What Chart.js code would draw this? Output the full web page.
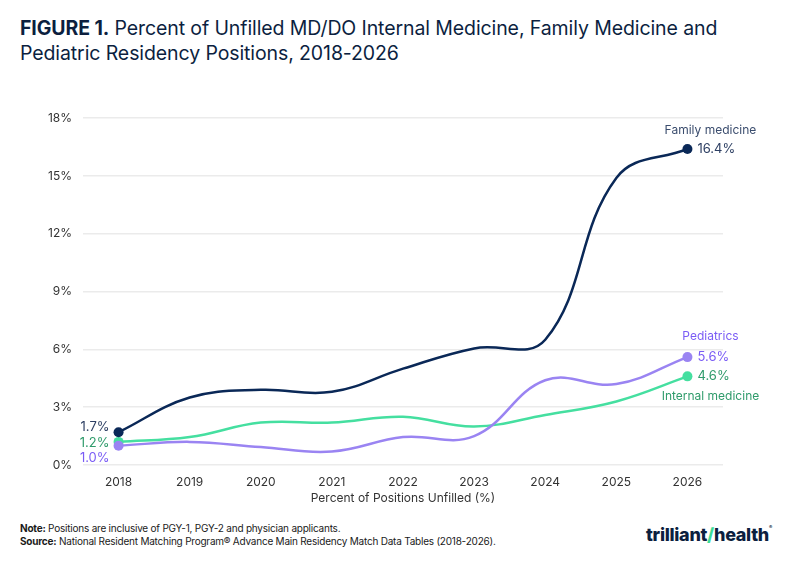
<!DOCTYPE html>
<html>
<head>
<meta charset="utf-8">
<script src="https://cdn.jsdelivr.net/npm/chart.js@4.4.1/dist/chart.umd.min.js"></script>
<style>
  body { margin: 0; background: #fff; font-family: Inter, "Noto Sans", sans-serif; }
  #page { position: relative; width: 800px; height: 566px; overflow: hidden; }
  #titulo { position: absolute; left: 20px; top: 16px; font-size: 19.5px; line-height: 25px; color: #0c1f3f; letter-spacing: -0.1px; }
  #titulo b { font-weight: 700; }
  #grafico-box { position: absolute; left: 0; top: 100px; width: 800px; height: 415px; }
  #nota { position: absolute; left: 20px; top: 522px; font-size: 10px; line-height: 13px; color: #1a1a1a; letter-spacing: -0.22px; }
  #logo { position: absolute; left: 646px; top: 524px; font-size: 18px; font-weight: 800; color: #0c1f3f; letter-spacing: -0.3px; }
  #logo sup { font-size: 5px; vertical-align: top; }
</style>
</head>
<body>
<div id="page">
  <div id="titulo"><b>FIGURE 1.</b> Percent of Unfilled MD/DO Internal Medicine, Family Medicine and<br>Pediatric Residency Positions, 2018-2026</div>
  <div id="grafico-box"><canvas id="grafico"></canvas></div>
  <div id="nota"><b>Note:</b> Positions are inclusive of PGY-1, PGY-2 and physician applicants.<br><b>Source:</b> National Resident Matching Program® Advance Main Residency Match Data Tables (2018-2026).</div>
  <div id="logo">trilliant<span style="color:#3ddc97">/</span>health<sup>®</sup></div>
</div>
<script>
// datos
const anios = ["2018", "2019", "2020", "2021", "2022", "2023", "2024", "2025", "2026"];
const medicinaFamiliar = [1.7, 3.5, 3.9, 3.8, 5.0, 6.05, 6.5, 14.9, 16.4];
const pediatria = [1.0, 1.2, 0.93, 0.7, 1.45, 1.5, 4.4, 4.2, 5.6];
const medicinaInterna = [1.2, 1.45, 2.2, 2.2, 2.5, 2.0, 2.6, 3.3, 4.6];
const ticksY = [0, 3, 6, 9, 12, 15, 18];

const NAVY = "#0a2857";
const MORADO = "#9a84f2";
const VERDE = "#45dfa0";

const soloExtremos = (ctx) => (ctx.dataIndex === 0 || ctx.dataIndex === anios.length - 1) ? 5 : 0;

// etiquetas de valores y nombres de serie
const etiquetasPlugin = {
  id: "etiquetas",
  afterDatasetsDraw(chart) {
    const c = chart.ctx;
    const x = chart.scales.x;
    const y = chart.scales.y;
    const ult = anios.length - 1;
    const xIni = x.getPixelForValue(0);
    const xFin = x.getPixelForValue(ult);
    c.save();
    c.font = "13px Inter, sans-serif";
    c.textBaseline = "middle";
    // izquierda
    c.textAlign = "right";
    c.fillStyle = "#2d3f63";
    c.fillText(medicinaFamiliar[0].toFixed(1) + "%", xIni - 9, y.getPixelForValue(medicinaFamiliar[0]) - 5);
    c.fillStyle = "#2f9b6b";
    c.fillText(medicinaInterna[0].toFixed(1) + "%", xIni - 9, y.getPixelForValue(medicinaInterna[0]) + 1);
    c.fillStyle = "#7a5cf5";
    c.fillText(pediatria[0].toFixed(1) + "%", xIni - 9, y.getPixelForValue(pediatria[0]) + 12);
    // derecha
    c.textAlign = "left";
    c.fillStyle = "#2d3f63";
    c.fillText(medicinaFamiliar[ult].toFixed(1) + "%", xFin + 10, y.getPixelForValue(medicinaFamiliar[ult]));
    c.fillStyle = "#7a5cf5";
    c.fillText(pediatria[ult].toFixed(1) + "%", xFin + 10, y.getPixelForValue(pediatria[ult]));
    c.fillStyle = "#2f9b6b";
    c.fillText(medicinaInterna[ult].toFixed(1) + "%", xFin + 10, y.getPixelForValue(medicinaInterna[ult]));
    // nombres
    c.font = "12px Inter, sans-serif";
    c.textAlign = "center";
    c.fillStyle = "#3b4d6e";
    c.fillText("Family medicine", xFin + 23, y.getPixelForValue(medicinaFamiliar[ult]) - 19);
    c.fillStyle = "#7a5cf5";
    c.fillText("Pediatrics", xFin + 23, y.getPixelForValue(pediatria[ult]) - 21);
    c.fillStyle = "#2f9b6b";
    c.fillText("Internal medicine", xFin + 23, y.getPixelForValue(medicinaInterna[ult]) + 20);
    c.restore();
  }
};

new Chart(document.getElementById("grafico"), {
  type: "line",
  data: {
    labels: anios,
    datasets: [
      { label: "Family medicine", data: medicinaFamiliar, borderColor: NAVY, backgroundColor: NAVY },
      { label: "Pediatrics", data: pediatria, borderColor: MORADO, backgroundColor: MORADO },
      { label: "Internal medicine", data: medicinaInterna, borderColor: VERDE, backgroundColor: VERDE }
    ]
  },
  options: {
    responsive: true,
    maintainAspectRatio: false,
    animation: false,
    devicePixelRatio: 1,
    layout: { padding: { left: 0, right: 77, top: 17, bottom: 9 } },
    elements: {
      line: { tension: 0.4, borderWidth: 2.5, fill: false },
      point: { radius: soloExtremos, hoverRadius: soloExtremos, borderWidth: 0 }
    },
    plugins: { legend: { display: false }, tooltip: { enabled: false } },
    scales: {
      x: {
        offset: true,
        grid: { display: false },
        border: { display: false },
        ticks: { color: "#333", font: { family: "Inter", size: 12 }, padding: 2 },
        title: { display: true, text: "Percent of Positions Unfilled (%)", color: "#333", font: { family: "Inter", size: 12 }, padding: { top: 2, bottom: 0 } },
        afterFit: (s) => { s.height = 41; }
      },
      y: {
        min: 0,
        max: 18,
        afterBuildTicks: (s) => { s.ticks = ticksY.map(v => ({ value: v })); },
        grid: { color: "#ebebeb", lineWidth: 1.5, drawTicks: false },
        border: { display: false },
        ticks: { color: "#333", font: { family: "Inter", size: 12 }, padding: 11, callback: (v) => v + "%" },
        afterFit: (s) => { s.width = 83; }
      }
    }
  },
  plugins: [etiquetasPlugin]
});
</script>
</body>
</html>
